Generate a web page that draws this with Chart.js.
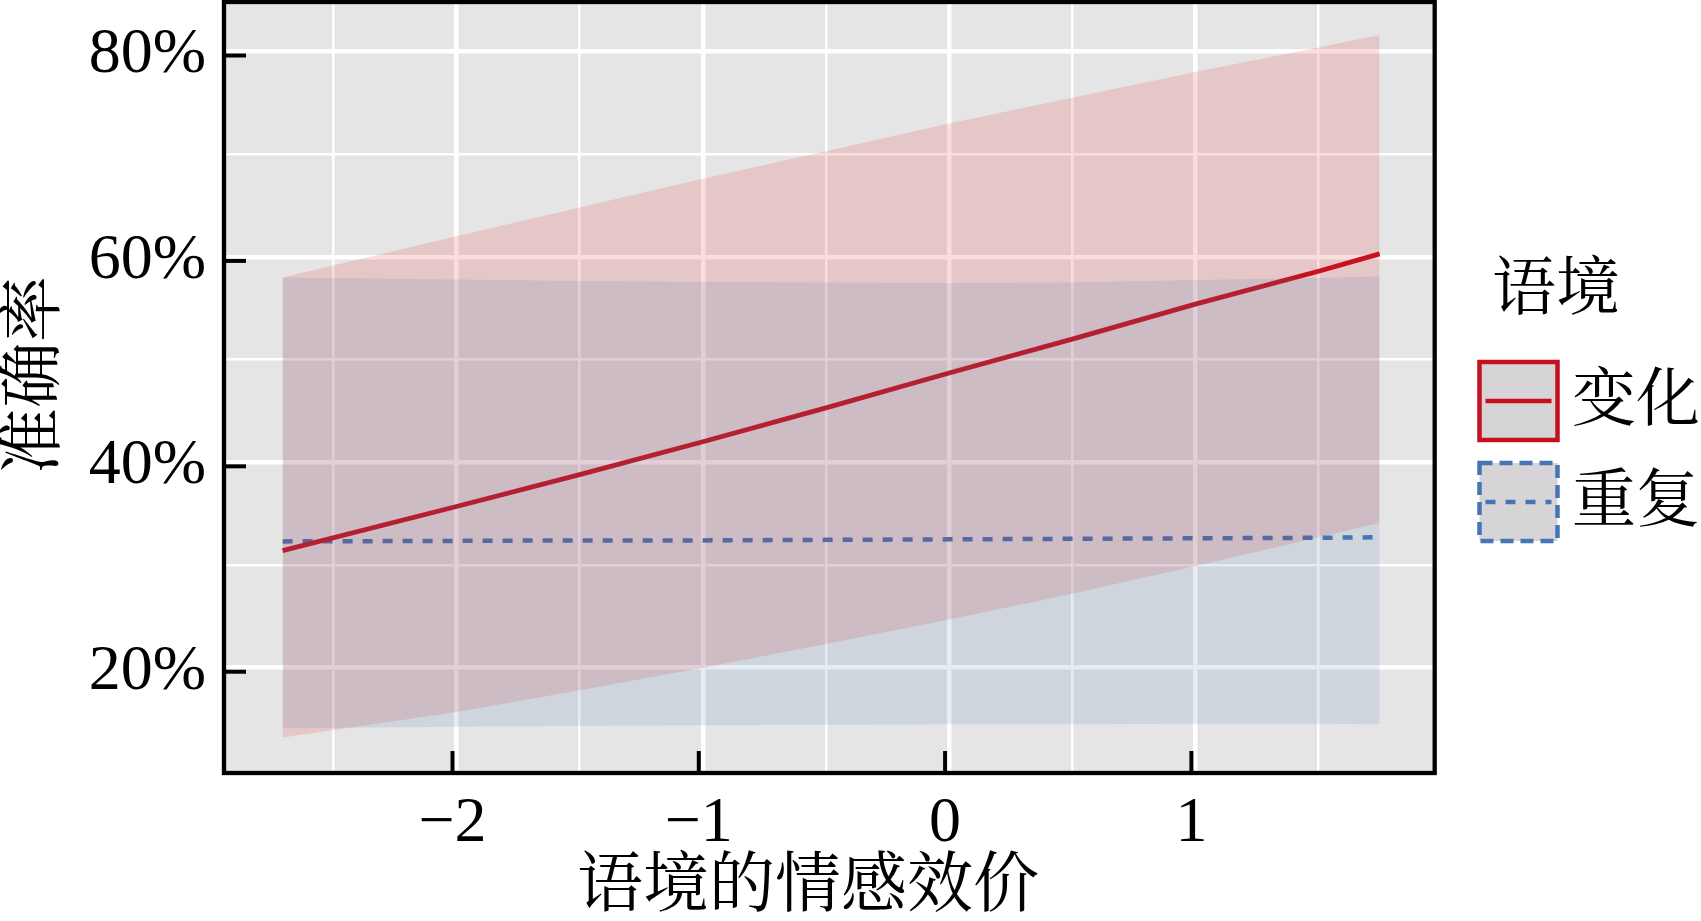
<!DOCTYPE html>
<html>
<head>
<meta charset="utf-8">
<script src="https://cdn.jsdelivr.net/npm/chart.js@4.4.1/dist/chart.umd.min.js"></script>
<style>
  html, body { margin: 0; padding: 0; background: #ffffff; }
  #wrap { width: 1701px; height: 921px; }
</style>
</head>
<body>
<div id="wrap"><canvas id="c" width="1701" height="921"></canvas></div>
<script>
// ---- data ----
const xValues      = [-2.706, -2, -1.5, -1, -0.5, 0, 0.5, 1, 1.5, 1.748];
const changeFit    = [31.4, 35.7, 38.8, 42.0, 45.3, 48.7, 52.0, 55.4, 58.6, 60.3];
const changeLower  = [13.2, 15.7, 17.8, 20.0, 22.3, 24.7, 27.2, 29.9, 32.7, 34.1];
const changeUpper  = [58.0, 62.0, 64.8, 67.6, 70.3, 73.0, 75.5, 78.0, 80.4, 81.6];
const repeatFit    = [32.3, 32.35, 32.4, 32.4, 32.45, 32.5, 32.55, 32.6, 32.65, 32.7];
const repeatLower  = [14.1, 14.25, 14.35, 14.4, 14.45, 14.5, 14.5, 14.55, 14.55, 14.5];
const repeatUpper  = [58.0, 57.8, 57.65, 57.55, 57.5, 57.45, 57.5, 57.75, 57.95, 58.1];

const xMajorTicks  = [-2, -1, 0, 1];
const xMinorTicks  = [-2.5, -1.5, -0.5, 0.5, 1.5];
const xTickLabels  = ['\u22122', '\u22121', '0', '1'];
const yMajorTicks  = [20, 40, 60, 80];
const yMinorTicks  = [30, 50, 70];
const yTickLabels  = ['20%', '40%', '60%', '80%'];

const groupNames   = ['变化', '重复'];
const legendTitle  = '语境';
const xTitle       = '语境的情感效价';
const yTitle       = '准确率';

// ---- styling ----
const RED_LINE  = '#C4101F';
const BLUE_LINE = '#4575B4';
const RED_FILL  = 'rgba(228,26,28,0.15)';
const BLUE_FILL = 'rgba(69,117,180,0.14)';
const PANEL_BG  = '#E5E5E5';
const SERIF = '"Liberation Serif", "Times New Roman", "Noto Serif CJK SC", "Noto Sans CJK SC", serif';
const FONT_PX = 64;

function pts(ys) { return xValues.map((x, i) => ({ x: x, y: ys[i] })); }

const panelPlugin = {
  id: 'panelDecor',
  beforeDraw(chart) {
    const { ctx, chartArea: a } = chart;
    ctx.save();
    ctx.fillStyle = PANEL_BG;
    ctx.fillRect(a.left, a.top, a.right - a.left, a.bottom - a.top);
    ctx.restore();
  },
  afterDatasetsDraw(chart) {
    const { ctx, chartArea: a, scales } = chart;
    ctx.save();
    ctx.strokeStyle = '#000';
    ctx.lineWidth = 4;
    ctx.lineCap = 'butt';
    xMajorTicks.forEach(v => {
      const px = scales.x.getPixelForValue(v) - 4;
      ctx.beginPath(); ctx.moveTo(px, a.bottom); ctx.lineTo(px, a.bottom - 22); ctx.stroke();
    });
    yMajorTicks.forEach(v => {
      const py = scales.y.getPixelForValue(v) + 4;
      ctx.beginPath(); ctx.moveTo(a.left, py); ctx.lineTo(a.left + 22, py); ctx.stroke();
    });
    ctx.lineWidth = 4.3;
    ctx.strokeRect(a.left, a.top, a.right - a.left, a.bottom - a.top);
    ctx.restore();
  },
  afterDraw(chart) {
    const { ctx } = chart;
    ctx.save();
    ctx.fillStyle = '#000';
    ctx.font = FONT_PX + 'px ' + SERIF;
    ctx.textAlign = 'center';
    ctx.textBaseline = 'middle';
    ctx.font = '66px ' + SERIF;
    ctx.fillText(xTitle, 808, 889);
    ctx.save();
    ctx.translate(37, 375);
    ctx.rotate(-Math.PI / 2);
    ctx.fillText(yTitle, 0, 0);
    ctx.restore();

    ctx.font = FONT_PX + 'px ' + SERIF;
    ctx.textAlign = 'left';
    ctx.fillText(legendTitle, 1492, 292);
    const keys = [
      { top: 362, color: RED_LINE, dash: [], boxDash: [], label: groupNames[0] },
      { top: 463, color: BLUE_LINE, dash: [10, 10], boxDash: [13, 7], label: groupNames[1] }
    ];
    keys.forEach(k => {
      const l = 1479.5, w = 78, h = 78;
      ctx.fillStyle = '#D6D4D7';
      ctx.fillRect(l, k.top, w, h);
      ctx.strokeStyle = k.color;
      ctx.lineWidth = 4.5;
      ctx.setLineDash(k.boxDash);
      ctx.strokeRect(l, k.top, w, h);
      ctx.setLineDash(k.dash);
      ctx.beginPath();
      ctx.moveTo(l + 6, k.top + h / 2);
      ctx.lineTo(l + w - 6, k.top + h / 2);
      ctx.stroke();
      ctx.setLineDash([]);
      ctx.fillStyle = '#000';
      ctx.fillText(k.label, 1572, k.top + h / 2 + 2);
    });
    ctx.restore();
  }
};

const xGrid = xMajorTicks.concat(xMinorTicks).sort((a, b) => a - b);
const yGrid = yMajorTicks.concat(yMinorTicks).sort((a, b) => a - b);

new Chart(document.getElementById('c'), {
  type: 'line',
  data: {
    datasets: [
      { label: 'changeLower', data: pts(changeLower), borderWidth: 0, borderColor: 'rgba(0,0,0,0)', pointRadius: 0, fill: false, order: 5 },
      { label: 'changeUpper', data: pts(changeUpper), borderWidth: 0, borderColor: 'rgba(0,0,0,0)', pointRadius: 0, fill: '-1', backgroundColor: RED_FILL, order: 5 },
      { label: 'repeatLower', data: pts(repeatLower), borderWidth: 0, borderColor: 'rgba(0,0,0,0)', pointRadius: 0, fill: false, order: 1 },
      { label: 'repeatUpper', data: pts(repeatUpper), borderWidth: 0, borderColor: 'rgba(0,0,0,0)', pointRadius: 0, fill: '-1', backgroundColor: BLUE_FILL, order: 1 },
      { label: groupNames[0], data: pts(changeFit), borderColor: RED_LINE, borderWidth: 4.8, pointRadius: 0, fill: false, order: 10 },
      { label: groupNames[1], data: pts(repeatFit), borderColor: BLUE_LINE, borderWidth: 4.5, borderDash: [10, 10], pointRadius: 0, fill: false, order: 10 }
    ]
  },
  options: {
    responsive: false,
    animation: false,
    devicePixelRatio: 1,
    layout: { padding: { left: 0, right: 266.3, top: 2, bottom: 0 } },
    plugins: {
      legend: { display: false },
      tooltip: { enabled: false },
      filler: { drawTime: 'beforeDatasetDraw' }
    },
    scales: {
      x: {
        type: 'linear',
        min: -2.944,
        max: 1.9716,
        afterBuildTicks(scale) { scale.ticks = xGrid.map(v => ({ value: v })); },
        afterFit(scale) {
          scale.height = 148;
          scale.paddingLeft = 0; scale.paddingRight = 0;
          scale.paddingTop = 0; scale.paddingBottom = 0;
        },
        border: { display: false },
        grid: {
          color: '#FFFFFF',
          lineWidth: (c) => (c.tick && xMajorTicks.includes(c.tick.value)) ? 4.5 : 2.5,
          drawTicks: false
        },
        ticks: {
          autoSkip: false,
          maxRotation: 0,
          padding: 13,
          labelOffset: -4,
          color: '#000',
          font: { family: SERIF, size: FONT_PX },
          callback(value) {
            const i = xMajorTicks.indexOf(value);
            return i >= 0 ? xTickLabels[i] : '';
          }
        }
      },
      y: {
        type: 'linear',
        min: 9.75,
        max: 84.82,
        afterBuildTicks(scale) { scale.ticks = yGrid.map(v => ({ value: v })); },
        afterFit(scale) {
          scale.width = 224;
          scale.paddingLeft = 0; scale.paddingRight = 0;
          scale.paddingTop = 0; scale.paddingBottom = 0;
        },
        border: { display: false },
        grid: {
          color: '#FFFFFF',
          lineWidth: (c) => (c.tick && yMajorTicks.includes(c.tick.value)) ? 4.5 : 2.5,
          drawTicks: false
        },
        ticks: {
          autoSkip: false,
          padding: 18,
          labelOffset: 4,
          color: '#000',
          font: { family: SERIF, size: FONT_PX },
          callback(value) {
            const i = yMajorTicks.indexOf(value);
            return i >= 0 ? yTickLabels[i] : '';
          }
        }
      }
    }
  },
  plugins: [panelPlugin]
});
</script>
</body>
</html>
